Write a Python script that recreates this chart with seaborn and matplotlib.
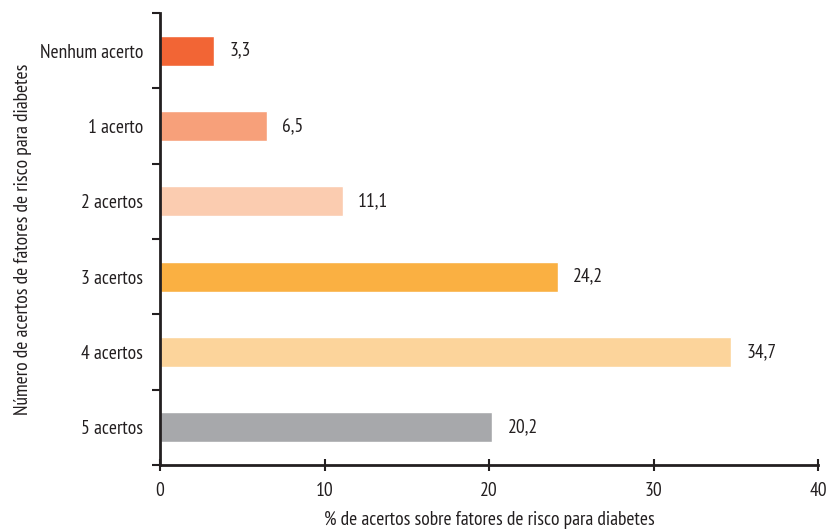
import matplotlib
matplotlib.use("Agg")
import matplotlib.pyplot as plt
import seaborn as sns
import pandas as pd
import numpy as np

categories = ["Nenhum acerto", "1 acerto", "2 acertos", "3 acertos", "4 acertos", "5 acertos"]
values = [3.3, 6.5, 11.1, 24.2, 34.7, 20.2]
colors = ["#F26535", "#F7A07A", "#FBCCB0", "#FAB042", "#FCD49B", "#A7A8AB"]
x_ticks = [0, 10, 20, 30, 40]

sns.set_theme(style="white")
plt.rcParams['font.family'] = ['PT Sans Narrow', 'Fira Sans Extra Condensed', 'Roboto Condensed', 'DejaVu Sans']
ink = "#231F20"
fs = 14

df = pd.DataFrame({"cat": categories, "val": values})

fig = plt.figure(figsize=(8.26, 5.30), dpi=100)
ax = fig.add_axes([160/826, 1-465/530, (818-160)/826, (465-13)/530])

sns.barplot(data=df, y="cat", x="val", hue="cat", palette=colors, order=categories,
            hue_order=categories, orient="h", width=0.4, legend=False, ax=ax, saturation=1)

ax.set_xlim(0, 40)
ax.set_ylim(5.5, -0.5)
ax.set_xticks(x_ticks)
ax.set_xticklabels([str(t) for t in x_ticks], fontsize=fs, color=ink)
ax.set_yticks(range(len(categories)))
ax.set_yticklabels(categories, fontsize=fs, color=ink)
ax.tick_params(axis="y", length=0, pad=12)
ax.set_yticks(np.arange(-0.5, len(categories)), minor=True)
ax.tick_params(axis="y", which="minor", length=6, width=1.5, color=ink, direction="out", left=True)
ax.tick_params(axis="x", length=8, width=1.5, color=ink, direction="inout", bottom=True, pad=8)

for s in ["top", "right"]:
    ax.spines[s].set_visible(False)
for s in ["left", "bottom"]:
    ax.spines[s].set_color(ink)
    ax.spines[s].set_linewidth(2)

for i, v in enumerate(values):
    ax.annotate(f"{v:.1f}".replace(".", ","), xy=(v, i), xytext=(11, 0),
                textcoords="offset points", va="center", ha="left", fontsize=fs, color=ink)

ax.set_xlabel("% de acertos sobre fatores de risco para diabetes", fontsize=fs, color=ink, labelpad=8)
ax.set_ylabel("Número de acertos de fatores de risco para diabetes", fontsize=fs, color=ink, labelpad=6)
ax.grid(False)

fig.savefig("out.png", dpi=100)
